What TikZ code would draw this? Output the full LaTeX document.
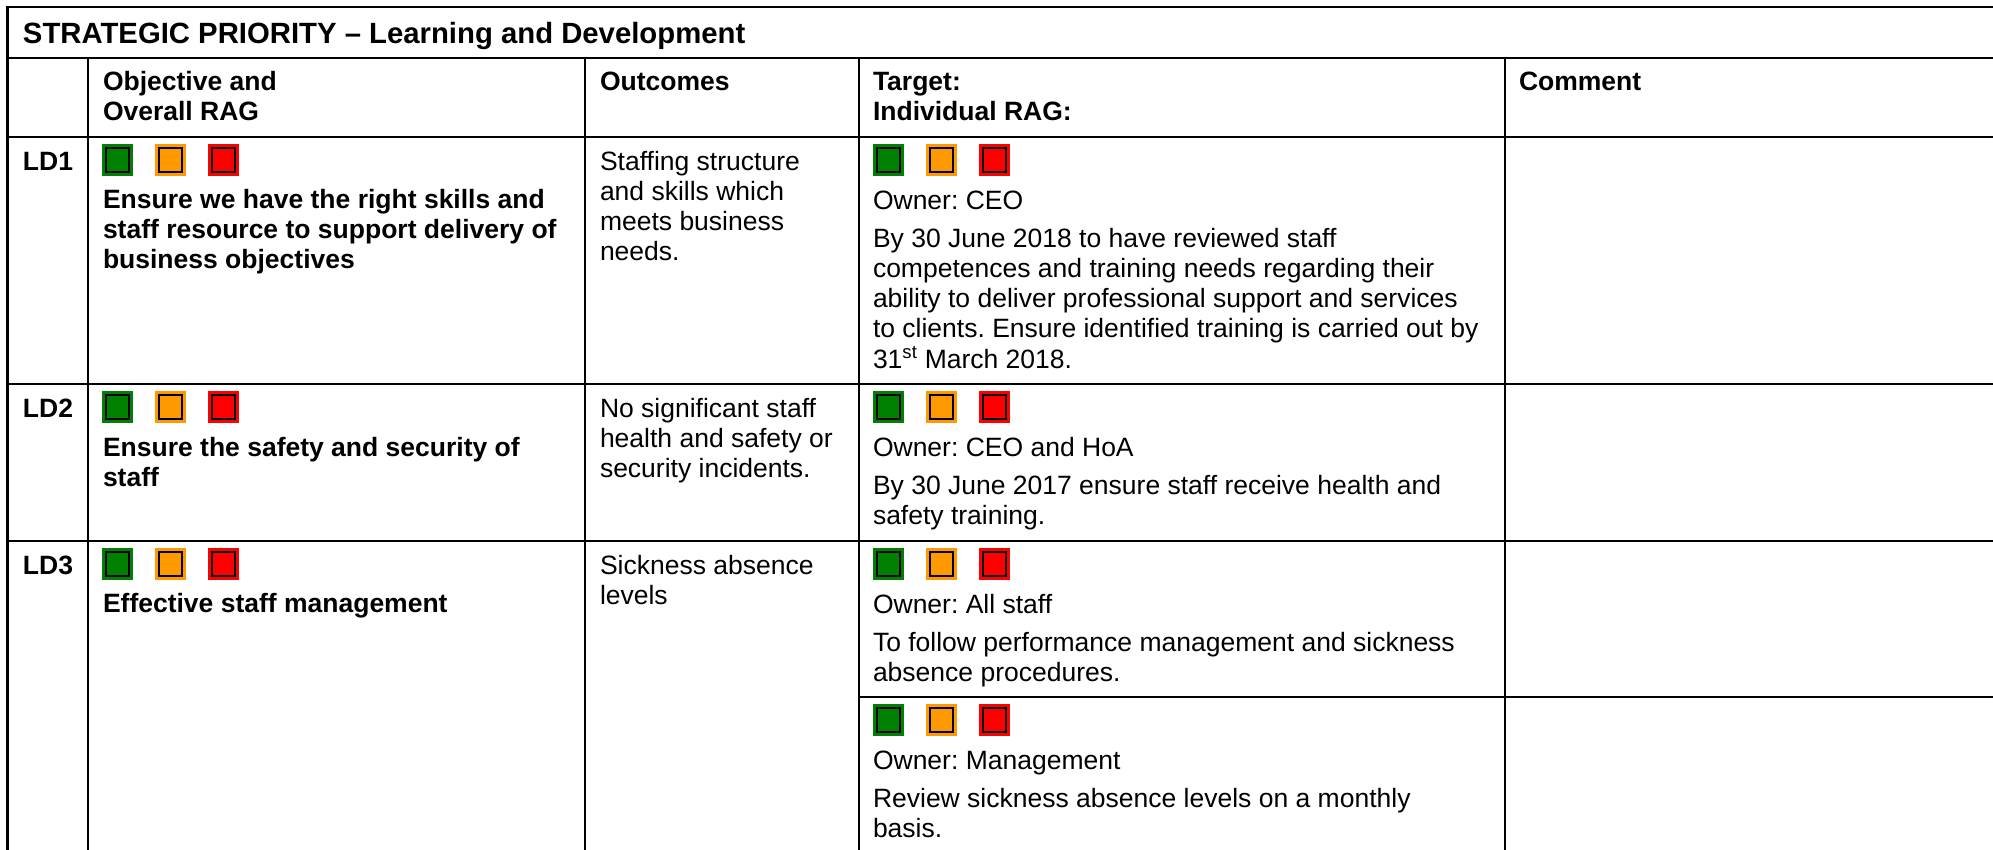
\documentclass[tikz,border=0pt]{standalone}
\usepackage{fontspec}
\setmainfont{Liberation Sans}
\frenchspacing
\definecolor{ragG}{RGB}{0,128,0}
\definecolor{ragA}{RGB}{255,153,0}
\definecolor{ragR}{RGB}{255,0,0}
\tikzset{
  gridline/.style={line width=2.5pt, black},
  txt/.style={anchor=base west, inner sep=0pt, outer sep=0pt, font=\fontsize{26.5}{30.5}\selectfont\frenchspacing},
  btxt/.style={anchor=base west, inner sep=0pt, outer sep=0pt, font=\fontsize{26.5}{30.5}\selectfont\bfseries\frenchspacing},
  ttl/.style={anchor=base west, inner sep=0pt, outer sep=0pt, font=\fontsize{29.3}{34}\selectfont\bfseries\frenchspacing},
  rag/.style={fill=#1, minimum width=31pt, minimum height=32pt, inner sep=0pt, outer sep=0pt,
    path picture={\draw[black, line width=2.4pt]
      ([shift={(4.2pt,-4.2pt)}]path picture bounding box.north west) rectangle
      ([shift={(-4.2pt,4.2pt)}]path picture bounding box.south east);}},
}
\newcommand{\ragtriple}[3]{%
  \node[rag=ragG] (#1g) at (#2+15.5, #3+16) {};
  \node[rag=ragA] (#1a) at (#2+68.5, #3+16) {};
  \node[rag=ragR] (#1r) at (#2+121.5, #3+16) {};
}
\begin{document}
\begin{tikzpicture}[x=1pt, y=-1pt]
\clip (0,0) rectangle (1993,849);
\fill[white] (0,0) rectangle (1993,849);

% grid
\draw[gridline] (7.5,860) -- (7.5,7) -- (2000,7);
\draw[gridline] (7.5,58) -- (2000,58);
\draw[gridline] (7.5,137) -- (2000,137);
\draw[gridline] (7.5,384) -- (2000,384);
\draw[gridline] (7.5,541) -- (2000,541);
\draw[gridline] (859,697) -- (2000,697);
\foreach \xx in {88,585,859,1505} \draw[gridline] (\xx,58) -- (\xx,860);

% title
\node[ttl] (title) at (23,43) {STRATEGIC PRIORITY – Learning and Development};

% header
\node[btxt] (hobj1) at (103,90) {Objective and};
\node[btxt] (hobj2) at (103,120.5) {Overall RAG};
\node[btxt] (hout) at (600,90) {Outcomes};
\node[btxt] (htar1) at (873,90) {Target:};
\node[btxt] (htar2) at (873,120.5) {Individual RAG:};
\node[btxt] (hcom) at (1519,90) {Comment};

% LD1
\node[btxt] (ldone) at (23,170) {LD1};
\ragtriple{ldoneo}{102}{144}
\ragtriple{ldonet}{873}{144}
\node[btxt] (ldoneobja) at (103,208.5) {Ensure we have the right skills and};
\node[btxt] (ldoneobjb) at (103,238.5) {staff resource to support delivery of};
\node[btxt] (ldoneobjc) at (103,268.5) {business objectives};
\node[txt] (ldoneouta) at (600,170) {Staffing structure};
\node[txt] (ldoneoutb) at (600,200) {and skills which};
\node[txt] (ldoneoutc) at (600,230) {meets business};
\node[txt] (ldoneoutd) at (600,260) {needs.};
\node[txt] (ldoneown) at (873,209) {Owner: CEO};
\node[txt] (ldonetara) at (873,247) {By 30 June 2018 to have reviewed staff};
\node[txt] (ldonetarb) at (873,277.3) {competences and training needs regarding their};
\node[txt] (ldonetarc) at (873,307.5) {ability to deliver professional support and services};
\node[txt] (ldonetard) at (873,337.8) {to clients. Ensure identified training is carried out by};
\node[txt] (ldonetare) at (873,368) {31\textsuperscript{st} March 2018.};

% LD2
\node[btxt] (ldtwo) at (23,417) {LD2};
\ragtriple{ldtwoo}{102}{391}
\ragtriple{ldtwot}{873}{391}
\node[btxt] (ldtwoobja) at (103,456) {Ensure the safety and security of};
\node[btxt] (ldtwoobjb) at (103,486) {staff};
\node[txt] (ldtwoouta) at (600,417) {No significant staff};
\node[txt] (ldtwooutb) at (600,447) {health and safety or};
\node[txt] (ldtwooutc) at (600,477) {security incidents.};
\node[txt] (ldtwoown) at (873,456) {Owner: CEO and HoA};
\node[txt] (ldtwotara) at (873,494) {By 30 June 2017 ensure staff receive health and};
\node[txt] (ldtwotarb) at (873,524.5) {safety training.};

% LD3
\node[btxt] (ldthree) at (23,574) {LD3};
\ragtriple{ldthreeo}{102}{548}
\ragtriple{ldthreet}{873}{548}
\node[btxt] (ldthreeobj) at (103,612) {Effective staff management};
\node[txt] (ldthreeouta) at (600,574) {Sickness absence};
\node[txt] (ldthreeoutb) at (600,604) {levels};
\node[txt] (ldthreeown) at (873,613) {Owner: All staff};
\node[txt] (ldthreetara) at (873,651) {To follow performance management and sickness};
\node[txt] (ldthreetarb) at (873,681) {absence procedures.};
\ragtriple{ldthreeu}{873}{704}
\node[txt] (ldthreeownb) at (873,769) {Owner: Management};
\node[txt] (ldthreetarc) at (873,807) {Review sickness absence levels on a monthly};
\node[txt] (ldthreetard) at (873,837) {basis.};
\end{tikzpicture}
\end{document}
